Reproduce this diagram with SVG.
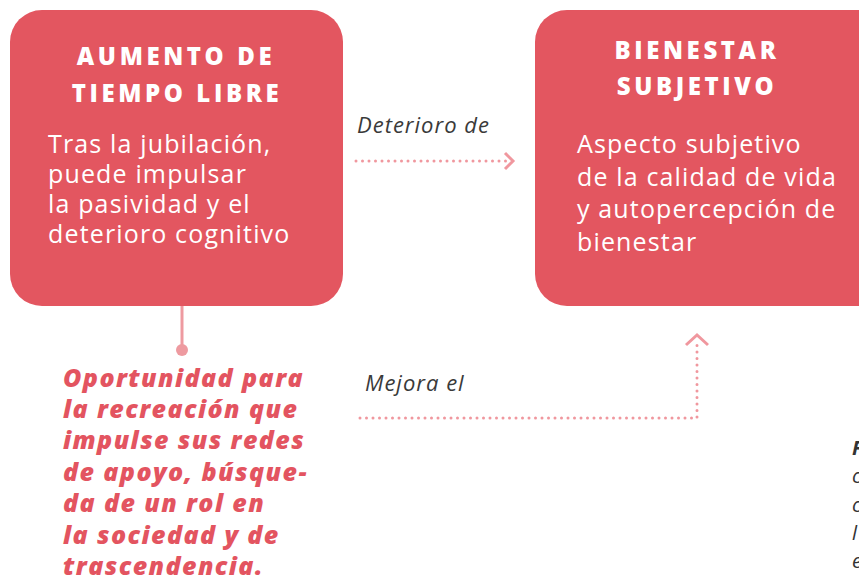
<svg xmlns="http://www.w3.org/2000/svg" width="859" height="583" viewBox="0 0 859 583">
<defs>
<style>
.box{fill:#E35660;}
.title{font-family:"Open Sans",sans-serif;font-weight:800;font-size:24px;fill:#fff;letter-spacing:3.6px;text-anchor:middle;}
.body{font-family:"Open Sans",sans-serif;font-size:25px;fill:#fff;letter-spacing:1.15px;}
.lbl{font-family:"Open Sans",sans-serif;font-style:italic;font-size:22px;fill:#3a3a3a;letter-spacing:1px;}
.red{font-family:"Open Sans",sans-serif;font-style:italic;font-weight:800;font-size:25px;fill:#E35460;letter-spacing:1.4px;}
.dot{fill:none;stroke:#F0979E;stroke-width:3;stroke-linecap:round;stroke-dasharray:0 6.5;}
.head{fill:none;stroke:#F0979E;stroke-width:3;}
.cut{font-family:"Open Sans",sans-serif;font-style:italic;font-size:20px;fill:#333;}
</style>
</defs>
<rect width="859" height="583" fill="#fff"/>
<g id="node-tiempo-libre">
<rect class="box" x="10" y="10" width="333" height="296" rx="32"/>
<text class="title" x="176" y="65">AUMENTO DE</text>
<text class="title" x="177" y="102">TIEMPO LIBRE</text>
<text class="body" x="48" y="153">Tras la jubilación,</text>
<text class="body" x="48" y="183">puede impulsar</text>
<text class="body" x="48" y="213">la pasividad y el</text>
<text class="body" x="48" y="243">deterioro cognitivo</text>
</g>
<g id="node-bienestar">
<rect class="box" x="535" y="10" width="360" height="296" rx="32"/>
<text class="title" x="697" y="59">BIENESTAR</text>
<text class="title" x="697" y="95">SUBJETIVO</text>
<text class="body" x="577" y="153">Aspecto subjetivo</text>
<text class="body" x="577" y="186">de la calidad de vida</text>
<text class="body" x="577" y="218">y autopercepción de</text>
<text class="body" x="577" y="251">bienestar</text>
</g>
<g id="node-oportunidad">
<text class="red" x="63" y="387">Oportunidad para</text>
<text class="red" x="63" y="418">la recreación que</text>
<text class="red" x="63" y="449">impulse sus redes</text>
<text class="red" x="63" y="481">de apoyo, búsque-</text>
<text class="red" x="63" y="512">da de un rol en</text>
<text class="red" x="63" y="544">la sociedad y de</text>
<text class="red" x="63" y="575">trascendencia.</text>
</g>
<g id="connectors">
<path class="dot" d="M356 161 H510"/>
<path class="head" d="M505 153 L513 161 L505 169"/>
<text class="lbl" x="357" y="133">Deterioro de</text>
<line x1="182" y1="306" x2="182" y2="350" stroke="#EE9AA0" stroke-width="3"/>
<circle cx="182" cy="350" r="6" fill="#EE9AA0"/>
<path class="dot" d="M360 418 H697 V342"/>
<path class="head" d="M686 345 L697 335 L708 345"/>
<text class="lbl" x="365" y="391">Mejora el</text>
</g>
<g id="cut-text">
<text class="cut" x="852" y="455" font-weight="bold">F</text>
<text class="cut" x="852" y="483">c</text>
<text class="cut" x="852" y="512">c</text>
<text class="cut" x="852" y="540">l</text>
<text class="cut" x="852" y="568">e</text>
</g>
</svg>
